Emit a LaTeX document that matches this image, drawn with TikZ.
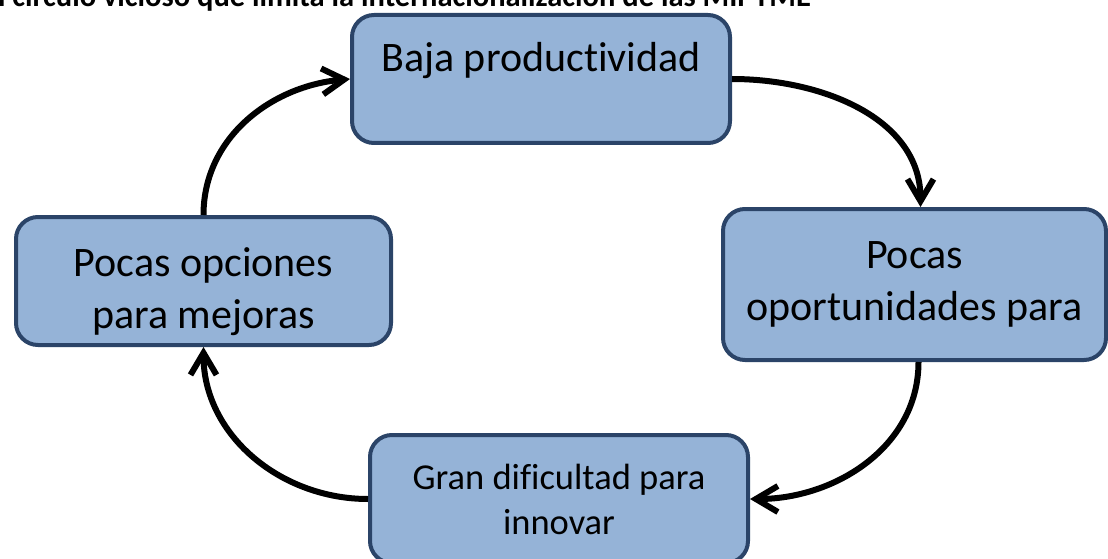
\documentclass[tikz,border=0pt]{standalone}
\usepackage{fontspec}
\setmainfont{Carlito}[Ligatures=NoCommon]
\usetikzlibrary{arrows.meta}
\definecolor{CajaAzul}{HTML}{95B3D7}
\definecolor{BordeAzul}{HTML}{2B4468}

\begin{document}
\begin{tikzpicture}[x=1pt, y=-1pt, >={Straight Barb[length=22pt, width=26pt]},
    causa/.style = {draw=BordeAzul, line width=4pt, fill=CajaAzul, rounded corners=22pt, align=center, inner sep=0pt},
    flecha/.style = {line width=6pt, black}]
      \useasboundingbox (0,0) rectangle (1108,559);
      \node[anchor=base west, inner sep=0pt, font=\bfseries\fontsize{30.5}{36}\selectfont] (titulo) at (-17,7) {El círculo vicioso que limita la internacionalización de las MIPYME};
      \node[causa, minimum width=378pt, minimum height=128pt, text depth=44pt, font=\fontsize{42}{51}\selectfont] (0) at (541,79) {Baja productividad};
      \node[causa, minimum width=383pt, minimum height=151pt, font=\fontsize{42}{52}\selectfont] (1) at (914.5,284.5) {Pocas\\oportunidades para};
      \node[causa, minimum width=378pt, minimum height=128pt, font=\fontsize{36.5}{45}\selectfont] (2) at (559,499) {Gran dificultad para\\innovar};
      \node[causa, minimum width=375pt, minimum height=128pt, font=\fontsize{42}{52}\selectfont] (3) at (203.5,281) {\rule{0pt}{50pt}Pocas opciones\\para mejoras};
      \draw[flecha, ->] (3.north) to[out=90, in=185] (0.west);
      \draw[flecha, ->] (0.east) to[out=0, in=90] ([xshift=6pt]1.north);
      \draw[flecha, ->] ([xshift=4pt]1.south) to[out=-90, in=0] (2.east);
      \draw[flecha, ->] (2.west) to[out=180, in=-90] (3.south);
    \end{tikzpicture}
\end{document}
